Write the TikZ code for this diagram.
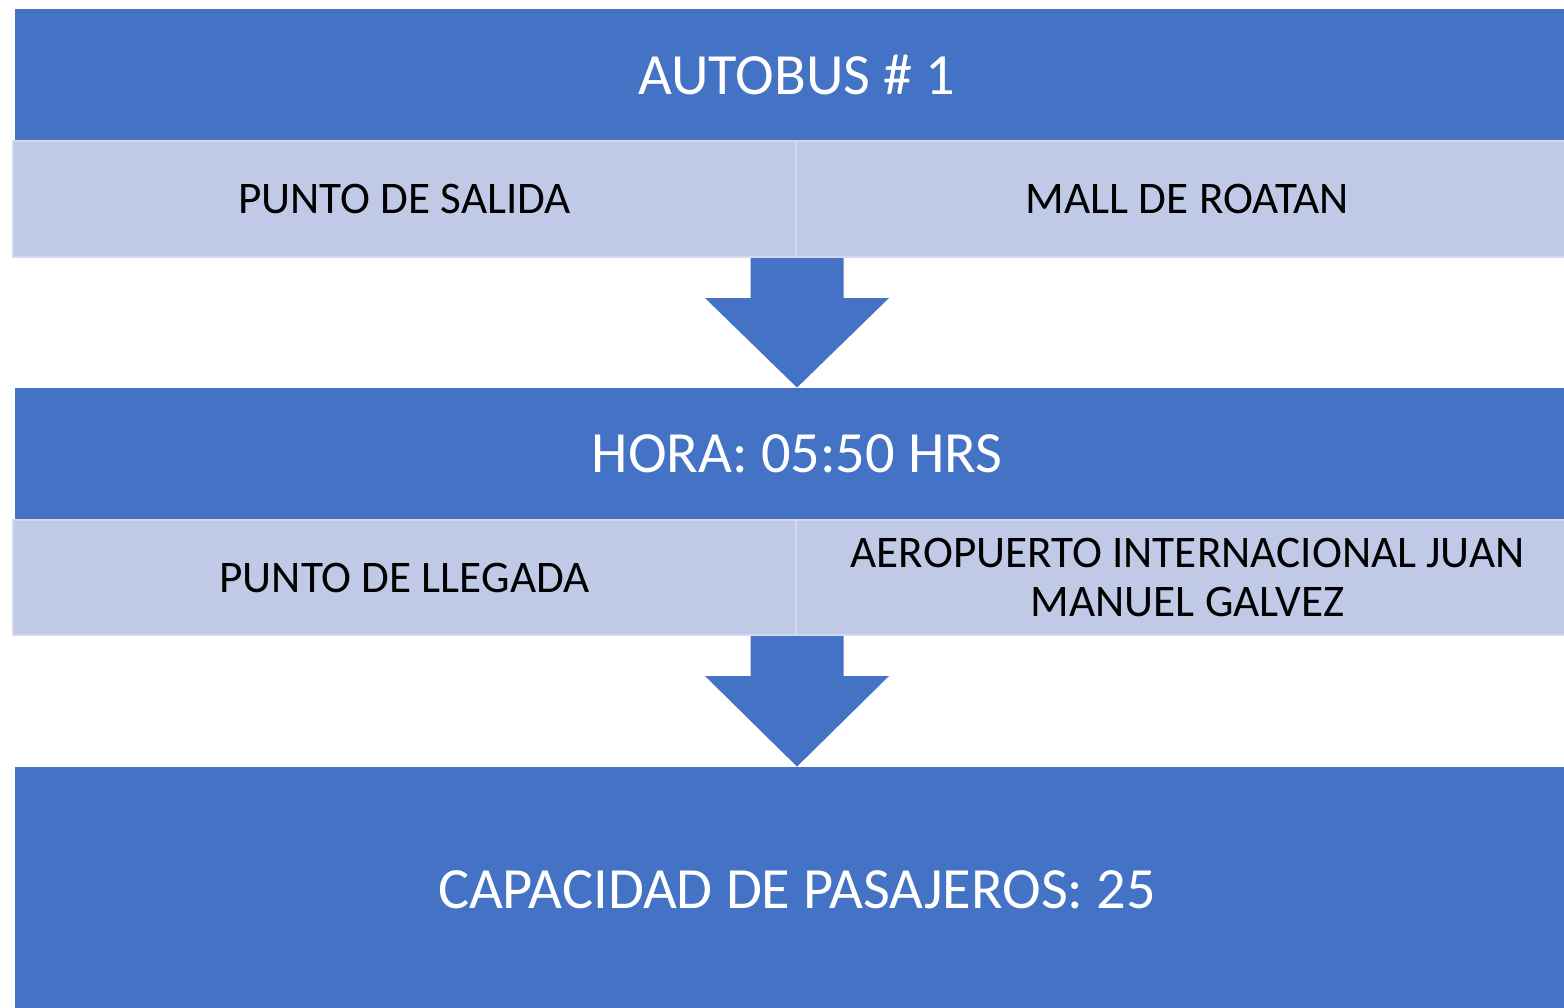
\documentclass[tikz,border=0pt]{standalone}
\usepackage{fontspec}
\setmainfont{Carlito}
\usetikzlibrary{calc}
\definecolor{barblue}{HTML}{4472C4}
\definecolor{cellblue}{HTML}{C0CAE7}
\definecolor{celledge}{HTML}{D3DAEF}
\tikzset{
  bar/.style={fill=barblue, text=white, inner sep=0pt, minimum width=782pt,
    font=\fontsize{29.2}{35}\selectfont},
  cell/.style={fill=cellblue, draw=celledge, line width=1pt, inner sep=0pt,
    minimum width=391.5pt, minimum height=58pt, align=center,
    font=\fontsize{22.6}{24.5}\selectfont}
}
\newcommand{\flecha}[2]{%
  \fill[barblue] ($(#1)+(-46.5,0)$) -- ($(#1)+(46.5,0)$) -- ($(#1)+(46.5,40)$)
    -- ($(#1)+(92,40)$) -- (#2) -- ($(#1)+(-92,40)$) -- ($(#1)+(-46.5,40)$) -- cycle;}
\begin{document}
\begin{tikzpicture}[x=0.5pt, y=-0.5pt]
  \clip (0,0) rectangle (1564,1007);
  \fill[white] (0,0) rectangle (1564,1007);
  \node[bar, minimum height=66pt] (autobus) at (797,75) {AUTOBUS \# 1};
  \node[cell] (salida) at (404.5,199) {PUNTO DE SALIDA};
  \node[cell] (mall) at (1187.5,199) {MALL DE ROATAN};
  \node[bar, minimum height=66pt] (hora) at (797,454) {HORA: 05:50 HRS};
  \node[cell, minimum height=57.5pt] (llegada) at (404.5,577.5) {PUNTO DE LLEGADA};
  \node[cell, minimum height=57.5pt] (aeropuerto) at (1187.5,577.5)
    {AEROPUERTO INTERNACIONAL JUAN\\MANUEL GALVEZ};
  \node[bar, minimum height=122.5pt] (capacidad) at (797,889.5)
    {CAPACIDAD DE PASAJEROS: 25};
  \flecha{salida.south east}{salida.south east |- hora.north}
  \flecha{llegada.south east}{llegada.south east |- capacidad.north}
\end{tikzpicture}
\end{document}
